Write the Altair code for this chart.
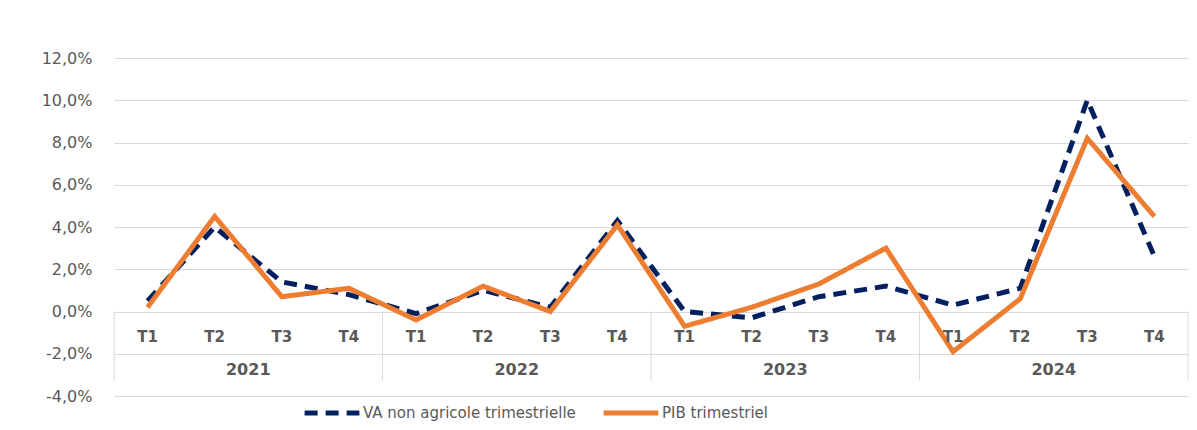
import altair as alt
import pandas as pd

quarters = ["T1", "T2", "T3", "T4"] * 4
years = ["2021", "2022", "2023", "2024"]
va = [0.5, 4.0, 1.4, 0.8, -0.1, 1.0, 0.2, 4.3, 0.0, -0.3, 0.7, 1.2, 0.3, 1.1, 10.0, 2.6]
pib = [0.2, 4.5, 0.7, 1.1, -0.4, 1.2, 0.0, 4.1, -0.7, 0.2, 1.3, 3.0, -1.9, 0.6, 8.2, 4.5]
series_names = ["VA non agricole trimestrielle", "PIB trimestriel"]
colors = ["#002060", "#ED7D31"]
y_ticks = [-4, -2, 0, 2, 4, 6, 8, 10, 12]

FONT = "DejaVu Sans"
GREY = "#595959"
LINE = "#D9D9D9"
MINUS = "\u2212"

idx = list(range(len(quarters)))
df = pd.DataFrame(
    {"idx": idx * 2, "q": quarters * 2,
     "value": va + pib,
     "series": [series_names[0]] * 16 + [series_names[1]] * 16}
)
df_va = df[df.series == series_names[0]].reset_index(drop=True)
df_pib = df[df.series == series_names[1]].reset_index(drop=True)
df_q = pd.DataFrame({"idx": idx, "q": quarters})
df_y = pd.DataFrame({"idx": [i * 4 + 1.5 for i in range(4)], "year": years})
df_sep = pd.DataFrame({"x": [i * 4 - 0.5 for i in range(5)]})

xs = alt.Scale(domain=[-0.5, 15.5], nice=False, zero=False)
ys = alt.Scale(domain=[-4, 12], nice=False)

leg = alt.Legend(
    title=None, orient="none", direction="horizontal",
    legendX=188, legendY=325,
    symbolType="stroke", symbolSize=3000, symbolStrokeWidth=5,
    labelFont=FONT, labelFontSize=15, labelColor=GREY, labelLimit=400,
    columnPadding=17, labelOffset=1,
)
color = alt.Color("series:N", scale=alt.Scale(domain=series_names, range=colors), legend=leg)
dash = alt.StrokeDash("series:N", scale=alt.Scale(domain=series_names, range=[[13, 8], [1, 0]]), legend=leg)

base_y = alt.Y(
    "value:Q", scale=ys,
    axis=alt.Axis(
        values=y_ticks, title=None, domain=False, ticks=False,
        grid=True, gridColor=LINE, gridWidth=1,
        labelExpr="replace(replace(format(datum.value, '.1f'), '.', ','), '" + MINUS + "', '-') + '%'",
        labelFont=FONT, labelFontSize=16, labelColor=GREY, labelPadding=22,
    ),
)

lines_va = alt.Chart(df_va).mark_line(strokeWidth=5).encode(
    x=alt.X("idx:Q", scale=xs, axis=None),
    y=base_y, color=color, strokeDash=dash,
)
lines_pib = alt.Chart(df_pib).mark_line(strokeWidth=5).encode(
    x=alt.X("idx:Q", scale=xs, axis=None),
    y=alt.Y("value:Q", scale=ys), color=color, strokeDash=dash,
)

seps = alt.Chart(df_sep).mark_rule(color=LINE, strokeWidth=1).encode(
    x=alt.X("x:Q", scale=xs), y=alt.datum(0), y2=alt.datum(-3.27)
)

qlabels = alt.Chart(df_q).mark_text(
    font=FONT, fontSize=15, fontWeight="bold", color=GREY, dy=25, baseline="middle"
).encode(x=alt.X("idx:Q", scale=xs), y=alt.datum(0), text="q:N")

ylabels = alt.Chart(df_y).mark_text(
    font=FONT, fontSize=16, fontWeight="bold", color=GREY, dy=58, baseline="middle"
).encode(x=alt.X("idx:Q", scale=xs), y=alt.datum(0), text="year:N")

chart = alt.layer(
    lines_va, lines_pib, seps, qlabels, ylabels
).properties(
    width=1074, height=338,
    autosize=alt.AutoSizeParams(type="none"),
    padding={"left": 106, "top": 50, "right": 1, "bottom": 30},
).configure_view(stroke=None)

chart.save("out.html", embed_options={"renderer": "svg", "actions": False})
